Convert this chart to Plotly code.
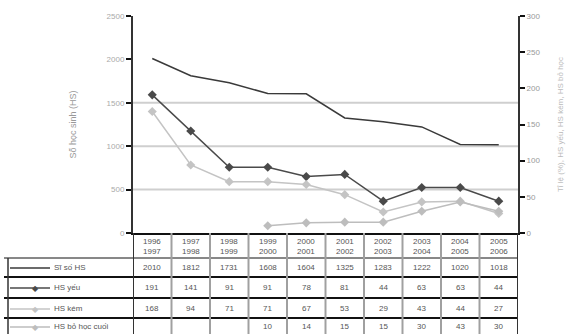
import plotly.graph_objects as go

categories = ["1996-1997", "1997-1998", "1998-1999", "1999-2000", "2000-2001",
              "2001-2002", "2002-2003", "2003-2004", "2004-2005", "2005-2006"]
si_so = [2010, 1812, 1731, 1608, 1604, 1325, 1283, 1222, 1020, 1018]
hs_yeu = [191, 141, 91, 91, 78, 81, 44, 63, 63, 44]
hs_kem = [168, 94, 71, 71, 67, 53, 29, 43, 44, 27]
hs_bo_hoc = [None, None, None, 10, 14, 15, 15, 30, 43, 30]
series_names = ["Sĩ số HS", "HS yếu", "HS kém", "HS bỏ học cuối"]
left_ticks = [0, 500, 1000, 1500, 2000, 2500]
right_ticks = [0, 50, 100, 150, 200, 250, 300]

W, H = 581, 334
ML, MR, MT, MB = 133, 63, 16, 101
PW = W - ML - MR
PH = H - MT - MB

def py(p):  # pixel y -> paper y
    return (H - MB - p) / PH

def px(p):  # pixel x -> paper x
    return (p - ML) / PW

idx = list(range(len(categories)))
colors = ["#3a3a3a", "#4a4a4a", "#c4c4c4", "#bdbdbd"]

fig = go.Figure()
fig.add_trace(go.Scatter(x=idx, y=si_so, mode="lines", name=series_names[0],
                         line=dict(color=colors[0], width=1.5), yaxis="y"))
fig.add_trace(go.Scatter(x=idx, y=hs_yeu, mode="lines+markers", name=series_names[1],
                         line=dict(color=colors[1], width=1.5),
                         marker=dict(symbol="diamond", size=7, color=colors[1]), yaxis="y2"))
fig.add_trace(go.Scatter(x=idx, y=hs_kem, mode="lines+markers", name=series_names[2],
                         line=dict(color=colors[2], width=1.5),
                         marker=dict(symbol="diamond", size=7, color=colors[2]), yaxis="y2"))
fig.add_trace(go.Scatter(x=idx, y=hs_bo_hoc, mode="lines+markers", name=series_names[3],
                         line=dict(color=colors[3], width=1.5),
                         marker=dict(symbol="diamond", size=7, color=colors[3]), yaxis="y2"))

shapes = []
annotations = []

for v in left_ticks[1:4]:
    shapes.append(dict(type="line", xref="paper", yref="y", x0=0, x1=1, y0=v, y1=v,
                       line=dict(color="#cfcfcf", width=2), layer="below"))

row_lines = [258, 277, 298, 318]
row_centers = [267, 287, 308, 326]
bottom = 334
tbl_font = dict(family="Liberation Sans, Arial", size=8, color="#555")

for r in row_lines:
    shapes.append(dict(type="line", xref="paper", yref="paper", x0=px(4), x1=1,
                       y0=py(r), y1=py(r), line=dict(color="#111", width=2 if r != 258 else 1)))
shapes.append(dict(type="line", xref="paper", yref="paper", x0=px(8), x1=px(8),
                   y0=py(258), y1=py(bottom), line=dict(color="#333", width=1.5)))
for i in range(len(categories) + 1):
    xv = i - 0.5
    col = "#333" if i in (0, len(categories)) else "#a0a0a0"
    shapes.append(dict(type="line", xref="x", yref="paper", x0=xv, x1=xv,
                       y0=0, y1=py(bottom), line=dict(color=col, width=2)))

for i, c in enumerate(categories):
    a, b = c.split("-")
    annotations.append(dict(x=i, y=py(246), xref="x", yref="paper", text=a + "<br>" + b,
                            showarrow=False, font=tbl_font, align="center", yanchor="middle"))

rows = [si_so, hs_yeu, hs_kem, hs_bo_hoc]
for r, (vals, name, col, yc) in enumerate(zip(rows, series_names, colors, row_centers)):
    for i, v in enumerate(vals):
        if v is None:
            continue
        annotations.append(dict(x=i, y=py(yc), xref="x", yref="paper", text=str(v),
                                showarrow=False, font=tbl_font, yanchor="middle"))
    shapes.append(dict(type="line", xref="paper", yref="paper", x0=px(10), x1=px(50),
                       y0=py(yc + 1), y1=py(yc + 1), line=dict(color=col, width=1.5)))
    if r > 0:
        annotations.append(dict(x=px(30), y=py(yc + 1), xref="paper", yref="paper", text="◆",
                                showarrow=False, yanchor="middle", font=dict(size=8, color=col)))
    annotations.append(dict(x=px(52), y=py(yc), xref="paper", yref="paper", text=name,
                            showarrow=False, xanchor="left", yanchor="middle", font=tbl_font))

fig.update_layout(
    width=W, height=H,
    margin=dict(l=ML, r=MR, t=MT, b=MB),
    paper_bgcolor="white", plot_bgcolor="white",
    showlegend=False,
    font=dict(family="Liberation Sans, Arial", size=8, color="#999"),
    xaxis=dict(range=[-0.5, len(categories) - 0.5], showticklabels=False, showgrid=False,
               zeroline=False, showline=True, linecolor="#111", linewidth=2, ticks=""),
    yaxis=dict(range=[0, 2500], tickvals=left_ticks, showgrid=False, zeroline=False,
               showline=True, linecolor="#333", linewidth=2, ticks="outside", ticklen=5,
               tickcolor="#111", tickwidth=2, tickfont=dict(size=8, color="#aaa"),
               title=dict(text="Số học sinh (HS)", font=dict(size=9, color="#999"), standoff=28)),
    yaxis2=dict(range=[0, 300], tickvals=right_ticks, overlaying="y", side="right",
                showgrid=False, zeroline=False, showline=True, linecolor="#333", linewidth=2,
                ticks="outside", ticklen=5, tickcolor="#111", tickwidth=2,
                tickfont=dict(size=8, color="#999"),
                title=dict(text="Tỉ lệ (%), HS yếu, HS kém, HS bỏ học", font=dict(size=8, color="#bbb"),
                           standoff=18)),
    shapes=shapes, annotations=annotations,
)

fig.write_html("out.html")
